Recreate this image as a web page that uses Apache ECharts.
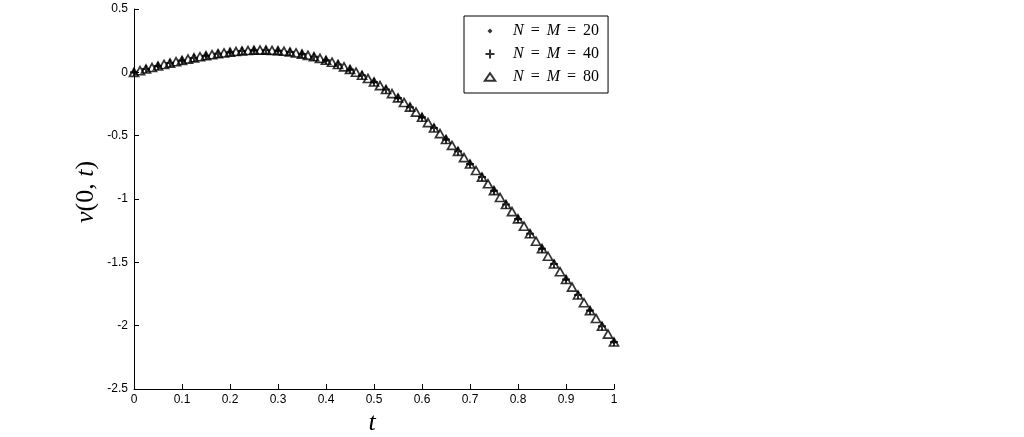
<!DOCTYPE html>
<html><head><meta charset="utf-8">
<script src="https://cdn.jsdelivr.net/npm/echarts@6/dist/echarts.min.js"></script>
<style>html,body{margin:0;padding:0;background:#fff}#c{width:1024px;height:437px}</style>
</head><body><div id="c"></div>
<script>
// ---- data ----
const seriesNames = ['N = M = 20', 'N = M = 40', 'N = M = 80'];
const xTickLabels = ['0','0.1','0.2','0.3','0.4','0.5','0.6','0.7','0.8','0.9','1'];
const yTickLabels = ['-2.5','-2','-1.5','-1','-0.5','0','0.5'];

const t20 = [0,0.05,0.1,0.15,0.2,0.25,0.3,0.35,0.4,0.45,0.5,0.55,0.6,0.65,0.7,0.75,0.8,0.85,0.9,0.95,1];
const v20 = [0,0.050,0.094,0.131,0.159,0.174,0.170,0.144,0.095,0.023,-0.076,-0.202,-0.355,-0.530,-0.724,-0.934,-1.157,-1.392,-1.635,-1.881,-2.129];

const t40 = [0,0.025,0.05,0.075,0.1,0.125,0.15,0.175,0.2,0.225,0.25,0.275,0.3,0.325,0.35,0.375,0.4,0.425,0.45,0.475,0.5,0.525,0.55,0.575,0.6,0.625,0.65,0.675,0.7,0.725,0.75,0.775,0.8,0.825,0.85,0.875,0.9,0.925,0.95,0.975,1];
const v40 = [0,0.026,0.050,0.073,0.094,0.114,0.131,0.147,0.159,0.168,0.174,0.175,0.170,0.160,0.144,0.123,0.095,0.062,0.023,-0.023,-0.076,-0.136,-0.202,-0.275,-0.355,-0.440,-0.530,-0.624,-0.724,-0.827,-0.934,-1.044,-1.157,-1.274,-1.392,-1.513,-1.635,-1.758,-1.881,-2.005,-2.129];

const t80 = [0,0.0125,0.025,0.0375,0.05,0.0625,0.075,0.0875,0.1,0.1125,0.125,0.1375,0.15,0.1625,0.175,0.1875,0.2,0.2125,0.225,0.2375,0.25,0.2625,0.275,0.2875,0.3,0.3125,0.325,0.3375,0.35,0.3625,0.375,0.3875,0.4,0.4125,0.425,0.4375,0.45,0.4625,0.475,0.4875,0.5,0.5125,0.525,0.5375,0.55,0.5625,0.575,0.5875,0.6,0.6125,0.625,0.6375,0.65,0.6625,0.675,0.6875,0.7,0.7125,0.725,0.7375,0.75,0.7625,0.775,0.7875,0.8,0.8125,0.825,0.8375,0.85,0.8625,0.875,0.8875,0.9,0.9125,0.925,0.9375,0.95,0.9625,0.975,0.9875,1];
const v80 = [0,0.013,0.026,0.038,0.050,
  0.062,0.073,0.084,0.094,
  0.104,0.114,0.123,0.131,
  0.139,0.147,0.153,0.159,
  0.164,0.168,0.172,0.174,
  0.175,0.175,0.173,0.170,
  0.166,0.160,0.153,0.144,
  0.134,0.123,0.110,0.095,
  0.080,0.062,0.043,0.023,
  0.001,-0.023,-0.049,-0.076,
  -0.105,-0.136,-0.168,-0.202,
  -0.238,-0.275,-0.314,-0.355,
  -0.397,-0.440,-0.484,-0.530,
  -0.577,-0.624,-0.673,-0.724,
  -0.775,-0.827,-0.880,-0.934,
  -0.988,-1.044,-1.100,-1.157,
  -1.215,-1.274,-1.333,-1.392,
  -1.452,-1.513,-1.574,-1.635,
  -1.696,-1.758,-1.819,-1.881,
  -1.943,-2.005,-2.067,-2.129];

// ---- chart ----
const serif = '"Liberation Serif","DejaVu Serif",serif';
const sans = '"Liberation Sans",Arial,sans-serif';
const pair = (t, v) => t.map((x, i) => [x, v[i]]);
const chart = echarts.init(document.getElementById('c'), null, {renderer: 'canvas'});

const legendRich = {
  i: {fontFamily: serif, fontStyle: 'italic', fontSize: 16, color: '#000'},
  e: {fontFamily: serif, fontSize: 16, color: '#000', padding: [0, 7, 0, 7]},
  n: {fontFamily: serif, fontSize: 16, color: '#000'}
};

chart.setOption({
  animation: false,
  backgroundColor: '#fff',
  grid: {left: 134, right: 410, top: 9, bottom: 48},
  xAxis: {
    type: 'value', min: 0, max: 1, interval: 0.1,
    axisLine: {onZero: false, lineStyle: {color: '#000', width: 1}},
    axisTick: {inside: true, length: 5, lineStyle: {color: '#000'}},
    splitLine: {show: false},
    axisLabel: {color: '#000', fontFamily: sans, fontSize: 12, margin: 5,
      formatter: v => xTickLabels[Math.round(v * 10)]}
  },
  yAxis: {
    type: 'value', min: -2.5, max: 0.5, interval: 0.5,
    axisLine: {show: true, onZero: false, lineStyle: {color: '#000', width: 1}},
    axisTick: {show: true, inside: true, length: 5, lineStyle: {color: '#000'}},
    splitLine: {show: false},
    axisLabel: {color: '#000', fontFamily: sans, fontSize: 12, margin: 6,
      formatter: v => yTickLabels[Math.round((v + 2.5) * 2)]}
  },
  legend: {
    orient: 'vertical', left: 464, top: 16,
    padding: [7, 9, 8, 7], itemGap: 7,
    itemWidth: 36, itemHeight: 10,
    borderColor: '#000', borderWidth: 1, borderRadius: 0,
    backgroundColor: '#fff',
    textStyle: {fontFamily: serif, fontSize: 16, color: '#000', lineHeight: 16, rich: legendRich},
    formatter: name => {
      const n = name.split(' = ');
      return '{i|' + n[0] + '}{e|=}{i|' + n[1] + '}{e|=}{n|' + n[2] + '}';
    },
    data: [
      {name: seriesNames[0], icon: 'path://M0,0M36,10M18,2.5L20.5,5L18,7.5L15.5,5Z'},
      {name: seriesNames[1], icon: 'path://M0,0M36,10M17,0.5H19V4H22.5V6H19V9.5H17V6H13.5V4H17Z'},
      {name: seriesNames[2], icon: 'path://M0,0M36,10M12.8,8.8L18,1.2L23.2,8.8Z',
        itemStyle: {borderWidth: 2}}
    ]
  },
  graphic: [
    {type: 'text', x: 86, y: 192, rotation: Math.PI / 2,
      style: {text: '{i|v}(0, {i|t})', fill: '#000', font: '26px ' + serif,
        align: 'center', verticalAlign: 'middle',
        rich: {i: {fontStyle: 'italic', fontFamily: serif, fontSize: 26}}}},
    {type: 'text', x: 372, y: 423,
      style: {text: 't', fill: '#000', font: 'italic 26px ' + serif,
        align: 'center', verticalAlign: 'middle'}}
  ],
  series: [
    {type: 'scatter', name: seriesNames[0], data: pair(t20, v20),
      symbol: 'circle', symbolSize: 4, itemStyle: {color: '#000'}, z: 2},
    {type: 'scatter', name: seriesNames[1], data: pair(t40, v40),
      symbol: 'path://M3,0H5V3H8V5H5V8H3V5H0V3H3Z', symbolSize: 8,
      itemStyle: {color: '#000'}, z: 3},
    {type: 'scatter', name: seriesNames[2], data: pair(t80, v80),
      symbol: 'triangle', symbolSize: [9, 8],
      itemStyle: {color: 'rgba(0,0,0,0)', borderColor: '#000', borderWidth: 1.7}, z: 4}
  ]
});
</script>
</body></html>
